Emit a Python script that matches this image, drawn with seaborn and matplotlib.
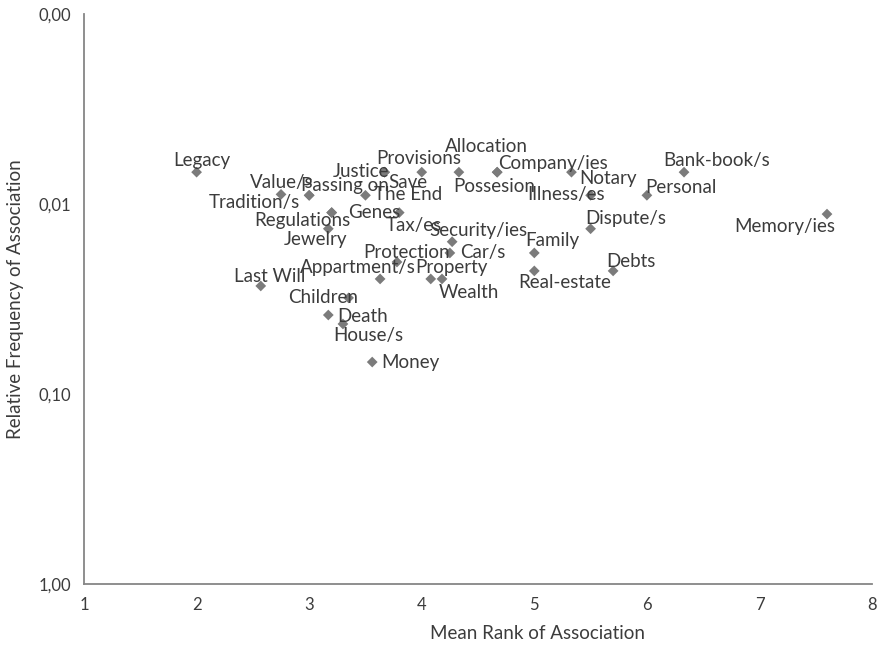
import matplotlib
matplotlib.use("Agg")
import matplotlib.pyplot as plt
import matplotlib.ticker as mticker
import pandas as pd
import seaborn as sns

# Words and their association stats
words = ["Legacy", "Value/s", "Tradition/s", "Passing on", "The End", "Justice", "Save",
         "Provisions", "Allocation", "Company/ies", "Possesion", "Notary", "Illness/es",
         "Personal", "Bank-book/s", "Regulations", "Genes", "Jewelry", "Tax/es",
         "Memory/ies", "Dispute/s", "Security/ies", "Car/s", "Family", "Protection",
         "Appartment/s", "Property", "Wealth", "Real-estate", "Debts", "Last Will",
         "Children", "Death", "House/s", "Money"]
mean_rank = [2.00, 2.75, 3.00, 3.00, 3.50, 3.67, 3.67,
             4.00, 4.33, 4.67, 4.67, 5.33, 5.50,
             6.00, 6.33, 3.20, 3.20, 3.17, 3.80,
             7.60, 5.50, 4.27, 4.25, 5.00, 3.78,
             3.63, 4.08, 4.18, 5.00, 5.70, 2.57,
             3.35, 3.17, 3.30, 3.56]
rel_freq = [0.0068, 0.0089, 0.0090, 0.0090, 0.0090, 0.0068, 0.0068,
            0.0068, 0.0068, 0.0068, 0.0068, 0.0068, 0.0090,
            0.0090, 0.0068, 0.0111, 0.0111, 0.0135, 0.0111,
            0.0113, 0.0135, 0.0158, 0.0181, 0.0181, 0.0202,
            0.0248, 0.0248, 0.0248, 0.0225, 0.0225, 0.0270,
            0.0312, 0.0384, 0.0428, 0.0679]

# label placement relative to its marker (pixels, y up)
label_offsets = {
    "Legacy": (5, 12), "Value/s": (1, 12), "Tradition/s": (-55, -7),
    "Passing on": (36, 10), "The End": (43, 1), "Justice": (-24, 1),
    "Save": (23, -10), "Provisions": (-3, 14), "Allocation": (28, 26),
    "Company/ies": (56, 9), "Possesion": (-3, -14), "Notary": (37, -6),
    "Illness/es": (-25, 1), "Personal": (34, 8), "Bank-book/s": (33, 12),
    "Regulations": (-29, -8), "Genes": (43, 0), "Jewelry": (-13, -11),
    "Tax/es": (15, -13), "Memory/ies": (-42, -12), "Dispute/s": (35, 10),
    "Security/ies": (26, 11), "Car/s": (33, 0), "Family": (18, 12),
    "Protection": (10, 10), "Appartment/s": (-22, 11), "Property": (21, 11),
    "Wealth": (27, -14), "Real-estate": (30, -12), "Debts": (18, 9),
    "Last Will": (9, 9), "Children": (-25, 0), "Death": (34, -1),
    "House/s": (25, -12), "Money": (38, 0),
}

df = pd.DataFrame({"word": words, "rank": mean_rank, "freq": rel_freq})

sns.set_style("white")
plt.rcParams["font.family"] = ["Lato", "DejaVu Sans"]

text_col = "#3c3c3c"
axis_col = "#868686"

fig = plt.figure(figsize=(8.78, 6.45), dpi=100)
ax = fig.add_axes([0.0957, 0.0946, 0.8975, 0.8837])

sns.scatterplot(data=df, x="rank", y="freq", marker="D", s=30, color="#7b7b7b",
                edgecolor="none", ax=ax, zorder=3)

for w, xv, yv in zip(words, mean_rank, rel_freq):
    dx, dy = label_offsets[w]
    ax.annotate(w, (xv, yv), xytext=(dx, dy), textcoords="offset pixels",
                ha="center", va="center", fontsize=13.5, color=text_col, zorder=4)

ax.set_yscale("log")
ax.set_ylim(1, 0.001)
ax.set_xlim(1, 8)
ax.set_yticks([0.001, 0.01, 0.1, 1])
ax.yaxis.set_minor_locator(mticker.NullLocator())
ax.yaxis.set_major_formatter(mticker.FuncFormatter(lambda v, p: f"{v:.2f}".replace(".", ",")))
ax.set_xticks(range(1, 9))

for side in ["top", "right"]:
    ax.spines[side].set_visible(False)
for side in ["left", "bottom"]:
    ax.spines[side].set_color(axis_col)
    ax.spines[side].set_linewidth(1.3)
ax.tick_params(axis="both", which="major", direction="out", length=6, width=1.2,
               color=axis_col, labelcolor=text_col, labelsize=12)

ax.set_xlabel("Mean Rank of Association", fontsize=13.5, color=text_col)
ax.xaxis.set_label_coords(0.576, -0.072)
ax.set_ylabel("Relative Frequency of Association", fontsize=13.5, color=text_col, labelpad=10)

fig.savefig("out.png", dpi=100)
